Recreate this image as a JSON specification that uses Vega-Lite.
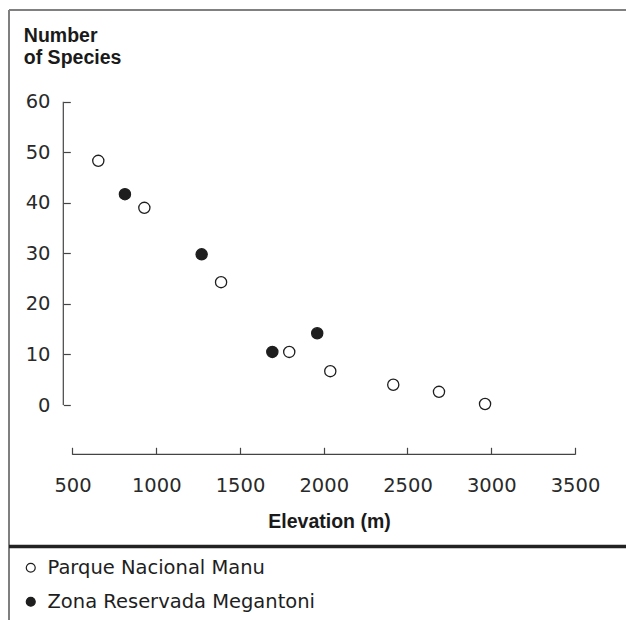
{
  "$schema": "https://vega.github.io/schema/vega-lite/v6.json",
  "width": 617,
  "height": 610,
  "autosize": {"type": "none"},
  "padding": {"left": 9, "top": 10, "right": 0, "bottom": 0},
  "background": "white",
  "config": {"view": {"stroke": null}, "font": "DejaVu Sans"},
  "datasets": {
    "points": [
      {"elevation": 654, "species": 48.3, "site": "Parque Nacional Manu"},
      {"elevation": 813, "species": 41.7, "site": "Zona Reservada Megantoni"},
      {"elevation": 929, "species": 39.0, "site": "Parque Nacional Manu"},
      {"elevation": 1271, "species": 29.8, "site": "Zona Reservada Megantoni"},
      {"elevation": 1387, "species": 24.3, "site": "Parque Nacional Manu"},
      {"elevation": 1693, "species": 10.5, "site": "Zona Reservada Megantoni"},
      {"elevation": 1794, "species": 10.5, "site": "Parque Nacional Manu"},
      {"elevation": 1961, "species": 14.2, "site": "Zona Reservada Megantoni"},
      {"elevation": 2039, "species": 6.7, "site": "Parque Nacional Manu"},
      {"elevation": 2415, "species": 4.0, "site": "Parque Nacional Manu"},
      {"elevation": 2688, "species": 2.6, "site": "Parque Nacional Manu"},
      {"elevation": 2963, "species": 0.2, "site": "Parque Nacional Manu"}
    ],
    "one": [{}]
  },
  "layer": [
    {
      "data": {"name": "one"},
      "mark": {"type": "rule", "color": "#555", "strokeWidth": 1.5},
      "encoding": {"x": {"datum": 120.9, "type": "quantitative"}}
    },
    {
      "data": {"name": "one"},
      "mark": {"type": "rule", "color": "#808080", "strokeWidth": 2},
      "encoding": {"y": {"datum": 78.14, "type": "quantitative"}}
    },
    {
      "data": {"name": "one"},
      "mark": {"type": "rule", "color": "#222", "strokeWidth": 3.5},
      "encoding": {"y": {"datum": -28.0, "type": "quantitative"}}
    },
    {
      "data": {"name": "one"},
      "mark": {"type": "rule", "color": "#444", "strokeWidth": 1.2},
      "encoding": {
        "x": {"datum": 500, "type": "quantitative"},
        "x2": {"datum": 3500},
        "y": {"datum": -9.75, "type": "quantitative"}
      }
    },
    {
      "data": {"name": "one"},
      "mark": {"type": "rule", "color": "#444", "strokeWidth": 1.2},
      "encoding": {
        "x": {"datum": 445.1, "type": "quantitative"},
        "y": {"datum": 0, "type": "quantitative"},
        "y2": {"datum": 60}
      }
    },
    {
      "data": {"name": "points"},
      "mark": {"type": "point", "shape": "circle", "filled": true, "stroke": "#1e1e1e", "strokeWidth": 1.3, "size": 125, "opacity": 1},
      "encoding": {
        "x": {
          "field": "elevation", "type": "quantitative",
          "scale": {"domain": [120.9, 3804.5], "nice": false, "zero": false},
          "axis": {
            "orient": "bottom", "offset": -165.7, "values": [500, 1000, 1500, 2000, 2500, 3000, 3500], "format": "d",
            "domain": false, "grid": false, "tickSize": -7, "tickColor": "#444", "tickWidth": 1.2,
            "labelFont": "DejaVu Sans", "labelFontSize": 19.5, "labelColor": "#2a2a2a", "labelBaseline": "alphabetic",
            "labelPadding": 43.7, "labelFlush": false, "labelOverlap": false,
            "title": "Elevation (m)", "titleFont": "Liberation Sans", "titleFontSize": 19.5, "titleFontWeight": "bold",
            "titleColor": "#1a1a1a", "titleX": 320, "titleY": 72.7, "titleBaseline": "alphabetic", "titleAlign": "center"
          }
        },
        "y": {
          "field": "species", "type": "quantitative",
          "scale": {"domain": [-42.53, 78.14], "nice": false, "zero": false},
          "axis": {
            "orient": "left", "offset": -54.3, "values": [0, 10, 20, 30, 40, 50, 60], "format": "d",
            "domain": false, "grid": false, "tickSize": -7, "tickColor": "#444", "tickWidth": 1.2,
            "labelFont": "DejaVu Sans", "labelFontSize": 19.5, "labelColor": "#2a2a2a", "labelBaseline": "middle",
            "labelAlign": "right", "labelPadding": 20.3, "labelFlush": false, "labelOverlap": false,
            "title": ["Number", "of Species"], "titleFont": "Liberation Sans", "titleFontSize": 19.5, "titleFontWeight": "bold",
            "titleColor": "#1a1a1a", "titleAngle": 0, "titleAlign": "left", "titleBaseline": "alphabetic",
            "titleX": -40, "titleY": 31, "titleLineHeight": 22.5
          }
        },
        "fill": {
          "field": "site", "type": "nominal",
          "scale": {"domain": ["Parque Nacional Manu", "Zona Reservada Megantoni"], "range": ["#ffffff", "#1e1e1e"]},
          "legend": {
            "title": null, "orient": "none", "legendX": 12, "legendY": 548, "padding": 0,
            "symbolType": "circle", "symbolSize": 80, "symbolStrokeColor": "#1e1e1e", "symbolStrokeWidth": 1.2,
            "labelFont": "DejaVu Sans", "labelFontSize": 19.5, "labelColor": "#1e1e1e", "labelOffset": 7,
            "labelLimit": 0, "rowPadding": 13
          }
        }
      }
    }
  ]
}
